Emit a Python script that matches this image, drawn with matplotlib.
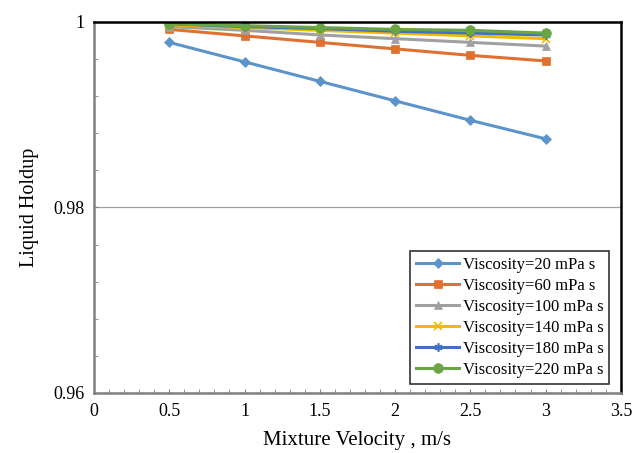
import numpy as np
import matplotlib
matplotlib.use("Agg")
import matplotlib.pyplot as plt
import matplotlib.ticker as mticker

plt.rcParams["font.family"] = ["Liberation Serif", "DejaVu Serif"]

velocity = [0.5, 1.0, 1.5, 2.0, 2.5, 3.0]
holdup_20 = [0.9978, 0.9957, 0.9936, 0.9915, 0.9894, 0.9874]
holdup_60 = [0.9992, 0.9985, 0.9978, 0.9971, 0.9964, 0.9958]
holdup_100 = [0.9995, 0.9991, 0.9986, 0.9982, 0.9978, 0.9974]
holdup_140 = [0.9997, 0.9994, 0.9991, 0.9988, 0.9985, 0.9982]
holdup_180 = [0.9998, 0.9995, 0.9993, 0.9990, 0.9988, 0.9986]
holdup_220 = [0.9998, 0.9996, 0.9994, 0.9992, 0.9991, 0.9988]
labels = ["Viscosity=20 mPa s", "Viscosity=60 mPa s", "Viscosity=100 mPa s",
          "Viscosity=140 mPa s", "Viscosity=180 mPa s", "Viscosity=220 mPa s"]

series = [holdup_20, holdup_60, holdup_100, holdup_140, holdup_180, holdup_220]
colors = ["#5B93CB", "#E07030", "#A0A0A0", "#F5B800", "#4470C0", "#6AA545"]
markers = ["D", "s", "^", "x", (6, 2, 0), "o"]
msizes = [5, 6, 6, 6, 6, 7]

fig = plt.figure(figsize=(6.44, 4.53), dpi=100)
ax = fig.add_axes([0.146, 0.1325, 0.818, 0.819])

for y, c, m, ms, lab in zip(series, colors, markers, msizes, labels):
    ax.plot(velocity, y, color=c, marker=m, markersize=ms, linewidth=2.2,
            markeredgewidth=1.2 if m in ("x", (6, 2, 0)) else 0.5,
            markeredgecolor=c, label=lab)

ax.set_xlim(0, 3.5)
ax.set_ylim(0.96, 1.0)
ax.xaxis.set_major_locator(mticker.MultipleLocator(0.5))
ax.xaxis.set_minor_locator(mticker.MultipleLocator(0.1))
ax.yaxis.set_major_locator(mticker.MultipleLocator(0.02))
ax.yaxis.set_minor_locator(mticker.MultipleLocator(0.004))
ax.xaxis.set_major_formatter(mticker.FormatStrFormatter("%g"))
ax.yaxis.set_major_formatter(mticker.FuncFormatter(lambda v, p: f"{v:g}"))
ax.tick_params(which="both", direction="in", length=3, color="#808080",
               labelsize=13, top=False, right=False)
ax.tick_params(axis="x", pad=7)
ax.tick_params(axis="y", pad=7)

ax.grid(axis="y", which="major", color="#a0a0a0", linewidth=0.9)
ax.set_axisbelow(True)

for side in ("left", "bottom"):
    ax.spines[side].set_color("#808080")
    ax.spines[side].set_linewidth(1.8)
for side in ("top", "right"):
    ax.spines[side].set_color("black")
    ax.spines[side].set_linewidth(1.8)

ax.set_xlabel("Mixture Velocity , m/s", fontsize=15, labelpad=8)
ax.set_ylabel("Liquid Holdup", fontsize=14.5, labelpad=10)

leg = ax.legend(loc="lower right", bbox_to_anchor=(0.978, 0.025), fontsize=12,
                frameon=True, fancybox=False, edgecolor="black",
                handlelength=2.6, handletextpad=0.2, labelspacing=0.3,
                borderpad=0.35, borderaxespad=0)
leg.get_frame().set_linewidth(1.2)

fig.savefig("out.png", dpi=100)
